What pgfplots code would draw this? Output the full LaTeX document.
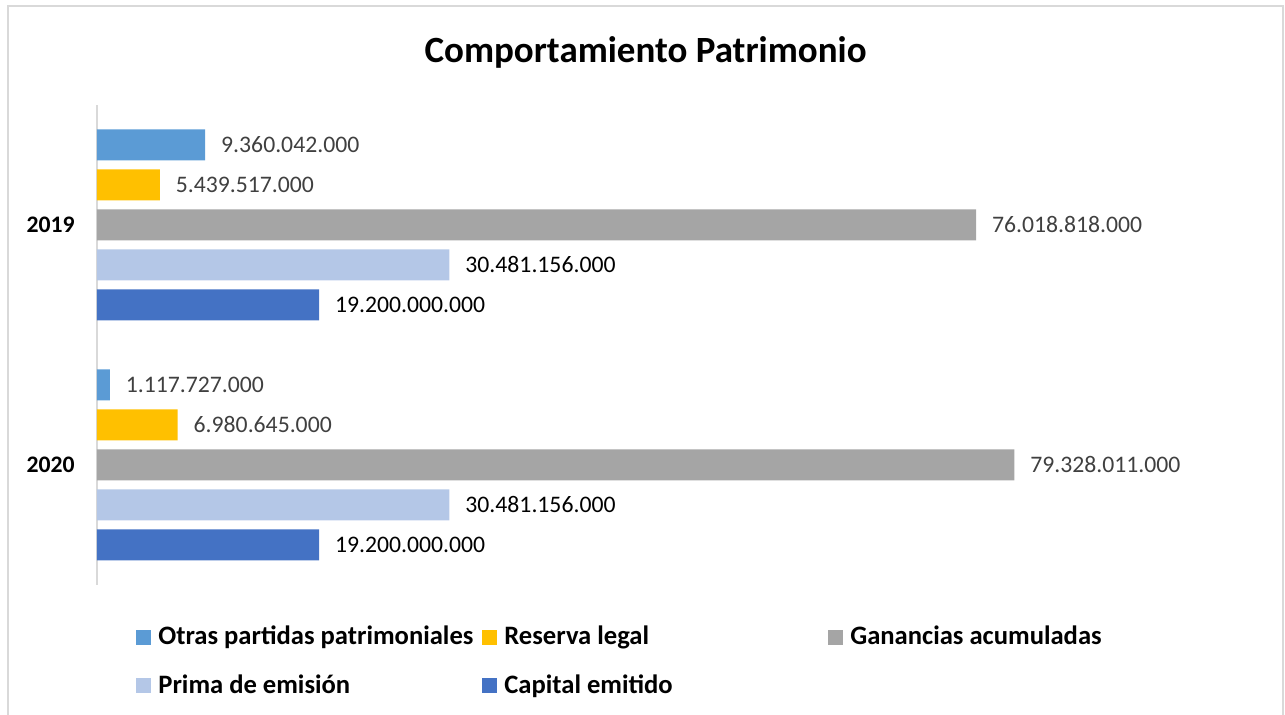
\documentclass[border=0pt]{standalone}
\usepackage{fontspec}
\setmainfont{Carlito}
\usepackage{pgfplots}
\pgfplotsset{compat=1.18}
\definecolor{cOtras}{HTML}{5B9BD5}
\definecolor{cReserva}{HTML}{FFC000}
\definecolor{cGan}{HTML}{A5A5A5}
\definecolor{cPrima}{HTML}{B4C7E7}
\definecolor{cCap}{HTML}{4472C4}
\definecolor{lblgray}{HTML}{404040}
\definecolor{framegray}{HTML}{D9D9D9}
\begin{document}
\begin{tikzpicture}
\useasboundingbox (-48.5pt,-65pt) rectangle (594pt,292.5pt);
\draw[framegray, line width=1pt] (-44.5pt,-70pt) rectangle (593pt,289.5pt);
\begin{axis}[
  at={(0pt,0pt)}, anchor=south west,
  x=5.7815pt, y=120pt,
  xmin=0, xmax=100, ymin=-0.5, ymax=1.5,
  clip=false,
  xbar, bar width=15.5pt,
  axis x line=none, axis y line=left,
  y axis line style={-, draw=framegray, line width=0.75pt},
  ytick={0,1}, yticklabels={\textbf{2020},\textbf{2019}},
  major tick length=0pt,
  yticklabel style={inner sep=0pt, xshift=-11pt, font=\fontsize{11.85}{14}\selectfont},
  title={Comportamiento Patrimonio},
  title style={at={(axis description cs:0.4744,1.0625)}, anchor=base, inner sep=0pt, font=\bfseries\fontsize{18.5}{22}\selectfont},
  nodes near coords, point meta=explicit symbolic,
  nodes near coords align={horizontal},
  every node near coord/.append style={anchor=west, inner sep=0pt, xshift=7.8pt, font=\fontsize{11.85}{14}\selectfont},
  legend columns=3,
  legend cell align=left,
  legend image code/.code={\fill[#1,draw=none] (0pt,-3.75pt) rectangle (7.5pt,3.75pt);},
  legend style={draw=none, fill=none, inner sep=0pt,
    at={(axis description cs:0.0337,-0.0844)}, anchor=north west,
    font=\bfseries\fontsize{13.3}{16}\selectfont,
    nodes={inner sep=0pt, text height=9.5pt, text depth=2pt},
    row sep=12.7pt,
    /tikz/every odd column/.style={column sep=3.5pt},
    /tikz/every even column/.style={column sep=4pt}},
]
\addplot[fill=cOtras, draw=none, bar shift=40pt, every node near coord/.append style={text=lblgray}]
  table[x=x, y=y, meta=lbl] {
x y lbl
9.360042 1 9.360.042.000
1.117727 0 1.117.727.000
};
\addlegendentry{\makebox[158pt][l]{Otras partidas patrimoniales}}
\addplot[fill=cReserva, draw=none, bar shift=20pt, every node near coord/.append style={text=lblgray}]
  table[x=x, y=y, meta=lbl] {
x y lbl
5.439517 1 5.439.517.000
6.980645 0 6.980.645.000
};
\addlegendentry{\makebox[158pt][l]{Reserva legal}}
\addplot[fill=cGan, draw=none, bar shift=0pt, every node near coord/.append style={text=lblgray}]
  table[x=x, y=y, meta=lbl] {
x y lbl
76.018818 1 76.018.818.000
79.328011 0 79.328.011.000
};
\addlegendentry{\makebox[158pt][l]{Ganancias acumuladas}}
\addplot[fill=cPrima, draw=none, bar shift=-20pt, every node near coord/.append style={text=black}]
  table[x=x, y=y, meta=lbl] {
x y lbl
30.481156 1 30.481.156.000
30.481156 0 30.481.156.000
};
\addlegendentry{\makebox[158pt][l]{Prima de emisión}}
\addplot[fill=cCap, draw=none, bar shift=-40pt, every node near coord/.append style={text=black}]
  table[x=x, y=y, meta=lbl] {
x y lbl
19.2 1 19.200.000.000
19.2 0 19.200.000.000
};
\addlegendentry{\makebox[158pt][l]{Capital emitido}}
\end{axis}
\end{tikzpicture}
\end{document}
